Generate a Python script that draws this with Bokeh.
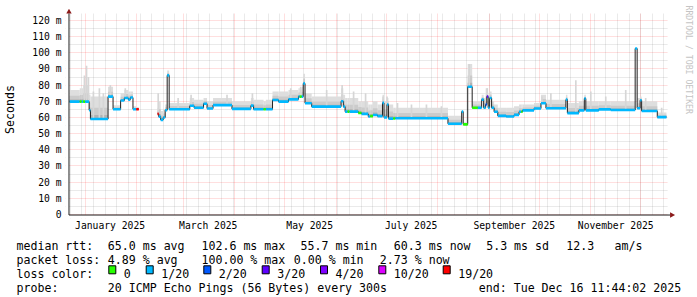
import math
import numpy as np
import pandas as pd
from bokeh.plotting import figure
from bokeh.layouts import column, row
from bokeh.models import (Range1d, FixedTicker, DatetimeTickFormatter, CustomJSTickFormatter)
from bokeh.core.properties import value
from bokeh.embed import file_html
from bokeh.resources import INLINE

# ---------------- data ----------------
BASE = pd.Timestamp("2025-01-01 00:00:00")
END = pd.Timestamp("2025-12-16 11:44:02")

# start of each median step, in days after 2025-01-01
seg_day = [-9.4, -3.24, -2.04, -1.2, 0.0, 2.40, 3.18, 13.78, 16.78, 21.33,
           23.55, 25.95, 27.15, 28.76, 30.74, 32.24, 43.51, 44.23, 45.42, 46.92,
           48.12, 49.32, 50.52, 62.92, 65.50, 71.19, 73.29, 76.89, 88.27, 99.66,
           101.28, 107.27, 108.65, 112.66, 116.26, 122.25, 128.24, 129.02, 130.22, 131.12,
           132.20, 136.21, 153.89, 155.21, 156.29, 157.79, 158.99, 164.20, 166.18, 170.19,
           171.4, 173.0, 175.77, 178.76, 179.66, 181.46, 182.36, 185.2, 186.5, 218.13,
           226.40, 227.30, 230.00, 232.69, 236.11, 238.39, 239.59, 240.79, 241.5, 242.28,
           243.18, 244.38, 245.88, 248.10, 253.07, 257.87, 260.86, 262.2, 263.0, 269.85,
           274.05, 277.04, 289.03, 289.93, 296.82, 300.11, 301.01, 308.80, 315.99, 330.68,
           331.87, 333.67, 334.57, 343.98]

# median rtt of each step (ms); nan = no data
median_ms = [69.8, 69.8, 69.8, 69.8, 69.8, 64.5, 59.0, 72.9, 65.1, 70.5,
             72.0, 71.0, 72.3, 65.1, 65.1, float("nan"), 62.2, 60.5, 58.5, 60.0,
             64.5, 86.0, 65.1, 67.2, 66.0, 68.5, 65.5, 67.6, 65.3, 67.3,
             65.1, 65.1, 65.1, 70.8, 69.8, 71.2, 72.9, 72.9, 72.9, 81.0,
             68.8, 66.7, 70.0, 66.7, 63.6, 63.6, 63.6, 62.8, 62.2, 60.6,
             60.8, 61.5, 60.8, 69.0, 60.0, 68.0, 59.3, 59.4, 59.5, 56.1,
             63.6, 55.7, 79.0, 66.0, 66.0, 71.0, 66.0, 68.0, 73.0, 66.0,
             72.0, 66.0, 63.5, 61.0, 60.6, 61.6, 63.5, 63.5, 64.4, 65.5,
             68.8, 65.7, 71.0, 62.7, 64.4, 71.7, 64.4, 65.0, 64.6, 102.6,
             65.7, 70.6, 64.0, 60.2]

# loss class of each step (index into loss_labels); -1 = no data
loss_idx = [1, 0, 1, 0, 1, 1, 1, 1, 1, 1,
            1, 1, 1, 1, 6, -1, 6, 1, 1, 1,
            1, 1, 1, 1, 1, 1, 1, 1, 1, 1,
            1, 0, 1, 1, 1, 1, 1, 0, 1, 1,
            1, 1, 1, 1, 1, 0, 1, 0, 1, 1,
            0, 1, 1, 1, 1, 1, 1, 0, 1, 1,
            1, 0, 1, 0, 1, 1, 1, 2, 3, 1,
            1, 1, 1, 1, 1, 1, 1, 0, 1, 1,
            1, 1, 1, 1, 1, 1, 1, 1, 1, 1,
            1, 1, 1, 1]

# top of the smoke (slowest pings) of each step (ms)
smoke_top_ms = [77, 78, 78, 80, 80, 74, 73, 79, 67.5, 75,
                77, 76, 76, 67, 66.5, float("nan"), 66, 70, 64, 65,
                68, 89, 69, 72, 71, 72, 70, 72, 70, 72,
                71, 70, 71, 76, 76, 77, 78, 78, 79, 87,
                75, 73, 78, 74, 72, 72, 72, 70, 70, 68,
                68, 70, 68, 74, 70, 72, 68, 66, 66, 61,
                64, 57, 93, 70, 70, 74, 72, 78, 78, 74,
                76, 70, 68, 66, 66, 67, 68, 68, 68, 69,
                74, 71, 74, 69, 70, 74, 70, 70, 70, 103,
                72, 73, 70, 63]

# isolated tall smoke columns: day after 2025-01-01, top (ms)
spike_day = [-0.42, 0.84, 1.98, 4.97, 8.57, 10.97, 15.16, 24.15, 43.93, 55.91,
             63.7, 85.3, 100.56, 123.6, 129.6, 145.2, 154.5, 161.4, 168.6, 179.1,
             181.5, 187.8, 196.2, 205.2, 214.2, 230.9, 241.7, 274.6, 280.0, 295.0,
             304.0, 313.0, 325.0, 337.0, 346.6]
spike_top_ms = [86, 92, 85, 76, 78, 75, 80, 78, 75, 72,
                74, 74, 75, 78, 79, 77, 80, 76, 75, 73,
                73, 69, 68, 68, 67, 93, 78, 73, 75, 83,
                76, 73, 77, 72, 66]

loss_labels = ["0", "1/20", "2/20", "3/20", "4/20", "10/20", "19/20"]
loss_colors = ["#26ff00", "#00b8ff", "#0059ff", "#5e00ff", "#7e00ff", "#dd00ff", "#ff0000"]

y_ticks = list(range(0, 121, 10))
y_minor = list(range(5, 121, 10))
x_label_dates = ["2025-01-16", "2025-03-16", "2025-05-16", "2025-07-16", "2025-09-16", "2025-11-16"]

stats_rtt = [("median rtt:", 16), ("65.0 ms avg", 107.3), ("102.6 ms max", 201),
             ("55.7 ms min", 300), ("60.3 ms now", 393.3), ("5.3 ms sd", 485.7),
             ("12.3", 565.7), ("am/s", 614)]
stats_loss = [("packet loss:", 16), ("4.89 % avg", 107.3), ("100.00 % max", 201),
              ("0.00 % min", 293.3), ("2.73 % now", 379.3)]
probe_line = [("probe:", 16), ("20 ICMP Echo Pings (56 Bytes) every 300s", 107.3),
              ("end: Tue Dec 16 11:44:02 2025", 478.3)]
legend_sq_x = [108.3, 145.7, 203.3, 261.7, 320.0, 378.3, 442.7]

# ---------------- geometry (pixels of the canvas) ----------------
W = 697
HA = 233            # chart part
HB = 297 - HA       # text part
FL, FR, FT, FB = 63, 697, 0, 219
DAY = 86400000.0
base_ms = BASE.value / 1e6
end_ms = END.value / 1e6
PX_DAY = 1.6686
JAN1_PX = 82.7
PX_MS = 202 / 124.3


def X(px):
    return base_ms + (px - JAN1_PX) / PX_DAY * DAY


def Y(py):
    return (215 - py) / PX_MS


MONO = "DejaVu Sans Mono"

p = figure(width=W, height=HA, x_axis_type="datetime", output_backend="svg",
           toolbar_location=None, x_range=Range1d(X(FL), X(FR)), y_range=Range1d(Y(FB), Y(FT)),
           min_border_left=FL, min_border_right=W - FR, min_border_top=FT,
           min_border_bottom=HA - FB)
p.outline_line_color = None
p.background_fill_color = "white"
p.border_fill_color = "white"

# grids
GRID_RED, GRID_RED_A = "#ff0000", 0.25
GRID_GREY, GRID_GREY_A = "#808080", 0.32
p.ygrid.ticker = FixedTicker(ticks=y_ticks, minor_ticks=y_minor)
month_starts = pd.date_range("2025-01-01", "2025-12-01", freq="MS")
mondays = pd.date_range("2024-12-23", "2025-12-15", freq="W-MON")
p.xgrid.ticker = FixedTicker(ticks=list(month_starts.asi8 / 1e6),
                             minor_ticks=list(mondays.asi8 / 1e6))
for g in (p.xgrid, p.ygrid):
    g.grid_line_color = GRID_RED
    g.grid_line_alpha = GRID_RED_A
    g.grid_line_dash = "1 1"
    g.minor_grid_line_color = GRID_GREY
    g.minor_grid_line_alpha = GRID_GREY_A
    g.minor_grid_line_dash = "1 1"

# axes (tick labels only; axis lines drawn below so the arrows fit)
p.yaxis.ticker = FixedTicker(ticks=y_ticks)
p.yaxis.formatter = CustomJSTickFormatter(code="return tick == 0 ? '0' : tick.toFixed(0) + ' m';")
p.yaxis.axis_label = "Seconds"
p.yaxis.axis_label_text_font = MONO
p.yaxis.axis_label_text_font_size = "11.6px"
p.yaxis.axis_label_text_font_style = "normal"
p.yaxis.axis_label_text_color = "black"
p.yaxis.axis_label_standoff = 12
p.yaxis.major_label_standoff = 4

p.xaxis.ticker = FixedTicker(ticks=list(pd.DatetimeIndex(x_label_dates).asi8 / 1e6))
fmt = "%B %Y"
p.xaxis.formatter = DatetimeTickFormatter(microseconds=fmt, milliseconds=fmt, seconds=fmt,
                                          minsec=fmt, minutes=fmt, hourmin=fmt, hours=fmt,
                                          days=fmt, months=fmt, years=fmt)
p.xaxis.major_label_standoff = 1

for ax in (p.xaxis, p.yaxis):
    ax.major_label_text_font = MONO
    ax.major_label_text_font_size = "9.7px"
    ax.major_label_text_color = "black"
    ax.major_tick_line_color = None
    ax.minor_tick_line_color = None
    ax.major_tick_out = 0
    ax.major_tick_in = 0
    ax.axis_line_color = None

# ---------------- marks ----------------
start_ms = base_ms + np.array(seg_day) * DAY
stop_ms = np.append(start_ms[1:], end_ms)
med = np.array(median_ms, dtype=float)
top = np.array(smoke_top_ms, dtype=float)
loss = np.array(loss_idx)
ok = ~np.isnan(med)

# smoke: three shades, darkest close to the median
for frac, col in [(1.0, "#dedede"), (0.5, "#cbcbcb"), (0.18, "#b2b2b2")]:
    p.quad(left=start_ms[ok], right=stop_ms[ok], bottom=med[ok],
           top=med[ok] + frac * (top[ok] - med[ok]), fill_color=col, line_color=None)

sd = base_ms + np.array(spike_day) * DAY
si = np.searchsorted(start_ms, sd, side="right") - 1
p.quad(left=sd - 0.5 * DAY, right=sd + 0.5 * DAY, bottom=med[si],
       top=np.array(spike_top_ms, dtype=float), fill_color="#d6d6d6", line_color=None)

# black median step line
lx, ly = [], []
for i in range(len(med)):
    if ok[i]:
        lx += [start_ms[i], stop_ms[i]]
        ly += [med[i], med[i]]
    else:
        lx.append(start_ms[i])
        ly.append(float("nan"))
p.line(lx, ly, line_color="#202020", line_width=1)

# loss coloured median band
band = 0.8
p.quad(left=start_ms[ok], right=stop_ms[ok], bottom=med[ok] - band, top=med[ok] + band,
       fill_color=[loss_colors[k] for k in loss[ok]], line_color=None)

# white margins of the rrdtool canvas inside the frame
p.quad(left=[X(FL), X(FL), X(667), X(FL)], right=[X(66.5), X(FR), X(FR), X(FR)],
       bottom=[Y(FB), Y(13), Y(FB), Y(FB)], top=[Y(FT), Y(FT), Y(FT), Y(215.5)],
       fill_color="white", line_color=None)

# axis lines and arrows
p.segment(x0=[X(66.5), X(66.5)], y0=[Y(215.5), Y(215.5)], x1=[X(66.5), X(669.5)],
          y1=[Y(13), Y(215.5)], line_color="#202020", line_width=1)
ARROW = "#8b1a1a"
p.patches(xs=[[X(63.8), X(69.2), X(66.5)], [X(669.5), X(669.5), X(674.5)]],
          ys=[[Y(13), Y(13), Y(8.3)], [Y(212.8), Y(218.2), Y(215.5)]],
          fill_color=ARROW, line_color=None)

# watermark
p.text(x=[X(688)], y=[Y(5)], text=["RRDTOOL / TOBI OETIKER"], angle=-math.pi / 2,
       text_font=value(MONO), text_font_size=value("8.2px"), text_color="#c4c4c4",
       text_align="left", text_baseline="middle")

# ---------------- text part under the chart ----------------
q = figure(width=W, height=HB, output_backend="svg", toolbar_location=None,
           x_range=Range1d(0, W), y_range=Range1d(HB, 0),
           x_axis_location=None, y_axis_location=None,
           min_border_left=0, min_border_right=0, min_border_top=0, min_border_bottom=0)
q.outline_line_color = None
q.background_fill_color = "white"
q.border_fill_color = "white"
q.grid.visible = False

tx, ty, tt = [], [], []
for rows, base_y in ((stats_rtt, 245.0), (stats_loss, 259.1), (probe_line, 287.3)):
    for t, px in rows:
        tx.append(px)
        ty.append(base_y - HA)
        tt.append(t)
tx.append(16)
ty.append(273.2 - HA)
tt.append("loss color:")
for k, sx in enumerate(legend_sq_x):
    tx.append(sx + 15)
    ty.append(273.2 - HA)
    tt.append(loss_labels[k])
q.text(x=tx, y=ty, text=tt, text_font=value(MONO), text_font_size=value("11.6px"),
       text_color="black", text_align="left", text_baseline="alphabetic")

sq = np.array(legend_sq_x)
q.quad(left=sq, right=sq + 7, top=265.3 - HA, bottom=273.3 - HA,
       fill_color=loss_colors, line_color="black", line_width=1)

# the text part sits in its own row so that its frame is not aligned with the chart's
layout = column(p, row(q, spacing=0), spacing=0)
open("out.html", "w").write(file_html(layout, INLINE))
